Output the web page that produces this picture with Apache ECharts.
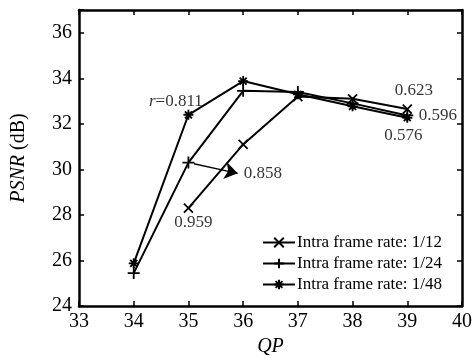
<!DOCTYPE html>
<html>
<head>
<meta charset="utf-8">
<script src="https://cdn.jsdelivr.net/npm/echarts@6/dist/echarts.min.js"></script>
<style>html,body{margin:0;padding:0;background:#fff}#c{width:475px;height:362px}</style>
</head>
<body>
<div id="c"></div>
<script>
var qp = [34, 35, 36, 37, 38, 39];
var rate12 = [null, 28.3, 31.1, 33.2, 33.1, 32.65];
var rate24 = [25.45, 30.3, 33.45, 33.4, 32.9, 32.37];
var rate48 = [25.88, 32.4, 33.88, 33.3, 32.77, 32.27];
var seriesNames = ['Intra frame rate: 1/12', 'Intra frame rate: 1/24', 'Intra frame rate: 1/48'];
var yTicks = [24, 26, 28, 30, 32, 34, 36];
var xTicks = [33, 34, 35, 36, 37, 38, 39, 40];
var annotations = [
  {text: '{i|r}=0.811', x: 34.77, y: 33.0, align: 'center'},
  {text: '0.959', x: 35.09, y: 27.66, align: 'center'},
  {text: '0.858', x: 36.01, y: 29.82, align: 'left'},
  {text: '0.623', x: 39.12, y: 33.48, align: 'center'},
  {text: '0.596', x: 39.21, y: 32.36, align: 'left'},
  {text: '0.576', x: 38.93, y: 31.5, align: 'center'}
];
var arrowFrom = [35.1, 30.25];
var arrowTo = [35.9, 29.83];

var FONT = 'Liberation Serif';
var symX = 'path://M0,0L10,10M10,0L0,10';
var symPlus = 'path://M5,0L5,10M0,5L10,5';
var symStar = 'path://M5,0L5,10M0,5L10,5M1.5,1.5L8.5,8.5M8.5,1.5L1.5,8.5';
var symbols = [symX, symPlus, symStar];
var sizes = [9, 12, 10];
var vals = [rate12, rate24, rate48];

function mk(i) {
  return {
    name: seriesNames[i], type: 'line', xAxisIndex: 0, yAxisIndex: 0,
    data: qp.map(function (q, k) { return vals[i][k] == null ? null : [q, vals[i][k]]; }).filter(function (d) { return d; }),
    symbol: symbols[i], symbolSize: sizes[i], showAllSymbol: true,
    lineStyle: {color: '#000', width: 2},
    itemStyle: {color: '#000', borderColor: '#000', borderWidth: 1.8},
    z: 3 + i, animation: false
  };
}

var chart = echarts.init(document.getElementById('c'), null, {renderer: 'canvas'});
var axLine = {show: true, lineStyle: {color: '#000', width: 2.5}};
var axTick = {show: true, inside: true, length: 5, lineStyle: {color: '#000', width: 1.5}};
var tickRich = {t: {color: '#000', fontSize: 20, fontFamily: FONT}};
chart.setOption({
  animation: false,
  textStyle: {fontFamily: FONT},
  grid: {left: 79, right: 8, top: 10, bottom: 50, containLabel: false},
  xAxis: [
    {type: 'value', min: xTicks[0], max: xTicks[xTicks.length - 1], interval: 1, position: 'bottom',
     axisLine: axLine, axisTick: axTick, splitLine: {show: false},
     axisLabel: {color: '#000', fontSize: 20, fontFamily: FONT, margin: 6, rich: tickRich,
       formatter: function (v) { return '{t|' + v + '}'; }},
     name: 'QP', nameLocation: 'middle', nameGap: 24,
     nameTextStyle: {color: '#000', fontSize: 20, fontFamily: FONT, fontStyle: 'italic'}},
    {type: 'value', min: xTicks[0], max: xTicks[xTicks.length - 1], interval: 1, position: 'top',
     axisLine: axLine, axisTick: axTick, splitLine: {show: false},
     axisLabel: {show: false}}
  ],
  yAxis: [
    {type: 'value', min: 24, max: 37, interval: 2, position: 'left',
     axisLine: axLine, axisTick: axTick, splitLine: {show: false},
     axisLabel: {color: '#000', fontSize: 20, fontFamily: FONT, margin: 7, rich: tickRich,
       formatter: function (v) { return yTicks.indexOf(v) >= 0 ? '{t|' + v + '}' : ''; }},
     name: '{i|PSNR} (dB)', nameLocation: 'middle', nameGap: 50, nameRotate: 90,
     nameTextStyle: {color: '#000', fontSize: 20, fontFamily: FONT,
       rich: {i: {fontStyle: 'italic', fontSize: 20, fontFamily: FONT, color: '#000'}}}},
    {type: 'value', min: 24, max: 37, interval: 2, position: 'right',
     axisLine: axLine, axisTick: axTick, splitLine: {show: false},
     axisLabel: {show: false}}
  ],
  legend: {
    data: seriesNames, orient: 'vertical', left: 257, top: 229,
    itemWidth: 32, itemHeight: 12, itemGap: 4,
    textStyle: {color: '#000', fontSize: 17, fontFamily: FONT, padding: [0, 0, 0, -3]}
  },
  series: [mk(0), mk(1), mk(2),
    {
      type: 'scatter', name: 'notes', symbolSize: 0, silent: true,
      data: annotations.map(function (a) { return {value: [a.x, a.y], label: {align: a.align}}; }),
      label: {
        show: true, position: 'inside', color: '#000', fontSize: 17, fontFamily: FONT,
        formatter: function (p) { return annotations[p.dataIndex].text; },
        rich: {i: {fontStyle: 'italic', fontSize: 17, fontFamily: FONT, color: '#000'}}
      }, z: 10
    },
    {
      type: 'lines', coordinateSystem: 'cartesian2d', silent: true,
      data: [{coords: [arrowFrom, arrowTo]}],
      symbol: ['none', 'arrow'], symbolSize: 13,
      lineStyle: {color: '#000', width: 1.3, opacity: 1}, z: 10
    }
  ]
});
</script>
</body>
</html>
